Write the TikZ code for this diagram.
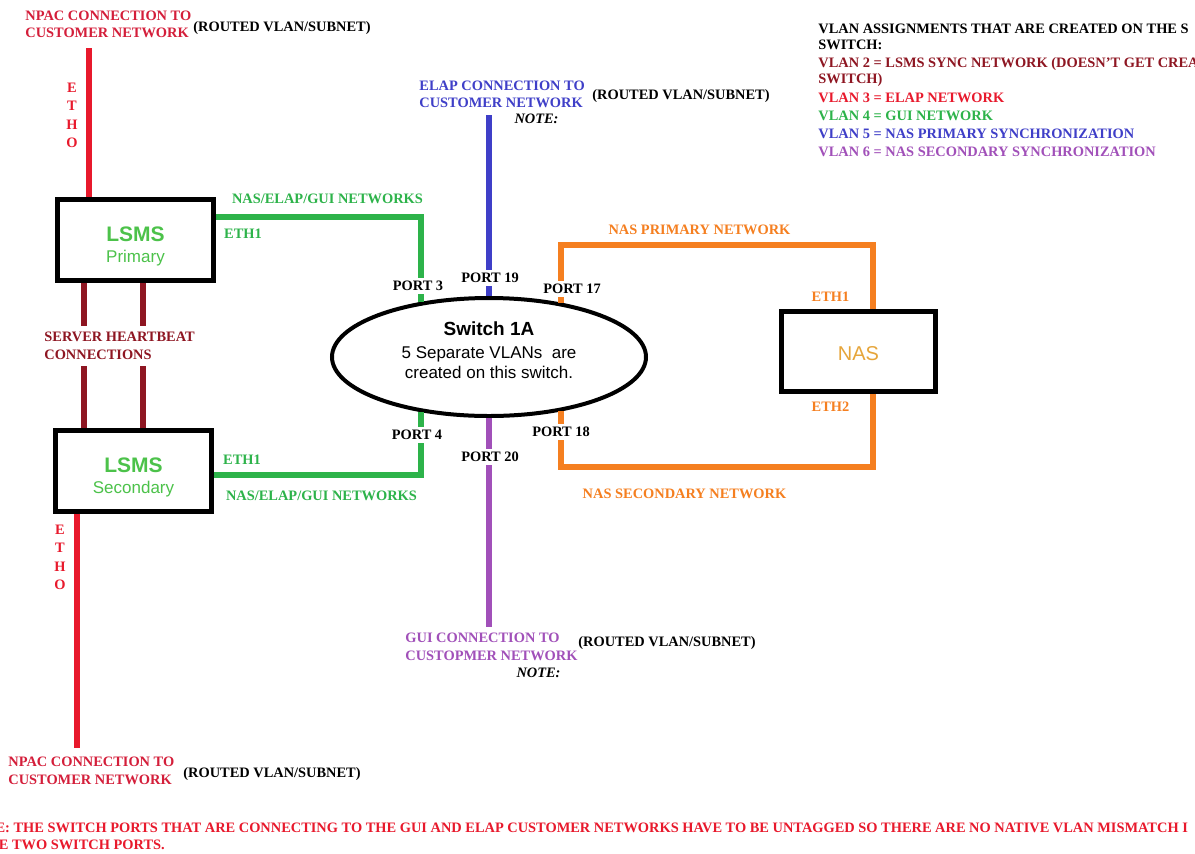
\documentclass[tikz,border=0pt]{standalone}
\usepackage{fontspec}
\setmainfont{Liberation Serif}
\newfontfamily\sansfont{Liberation Sans}
\usetikzlibrary{shapes.geometric, positioning}
\definecolor{NetRed}{HTML}{E8192C}
\definecolor{NpacRed}{HTML}{D41E3A}
\definecolor{BeatRed}{HTML}{8E1622}
\definecolor{NetGreen}{HTML}{2DB34A}
\definecolor{LsmsGreen}{HTML}{4CC24A}
\definecolor{NetBlue}{HTML}{3F3FC8}
\definecolor{NetOrange}{HTML}{F57F20}
\definecolor{NasGold}{HTML}{E6A53A}
\definecolor{NetPurple}{HTML}{A150B9}

\begin{document}
\begin{tikzpicture}[x=0.5pt, y=-0.5pt,
    lbl/.style={font=\bfseries\fontsize{7.2}{8.8}\selectfont, inner sep=0pt, align=left},
    port/.style={lbl, fill=white, inner sep=1.5pt},
    server/.style={draw, line width=2.5pt, minimum width=78pt, minimum height=40.5pt, inner sep=0pt, align=center},
    wire/.style={line width=2.8pt}]
    \useasboundingbox (0,0) rectangle (1195,853);
    \fill[white] (0,0) rectangle (1195,853);
    \clip (0,0) rectangle (1195,853);

    % Nodes
    \node[server, text=LsmsGreen] (lsms1) at (135.5,240) {\sansfont\bfseries\fontsize{10.5}{12}\selectfont\rule{0pt}{13.5pt}LSMS\\[-1.5pt]\sansfont\mdseries\fontsize{8.5}{10}\selectfont Primary};
    \node[server, text=LsmsGreen] (lsms2) at (133.5,470.5) {\sansfont\bfseries\fontsize{10.5}{12}\selectfont\rule{0pt}{14pt}LSMS\\[-1.5pt]\sansfont\mdseries\fontsize{8.5}{10}\selectfont Secondary};
    \node[server, minimum width=77pt, minimum height=40pt, text=NasGold, font=\sansfont\fontsize{10}{12}\selectfont] (nas) at (858.5,351.5) {\rule{0pt}{9.5pt}NAS};
    \node[ellipse, draw, line width=2pt, minimum width=157pt, minimum height=59pt, inner sep=0pt] (sw) at (489,357) {};
    \node[align=center, inner sep=0pt, font=\sansfont\fontsize{8.5}{9.6}\selectfont] (swtext) at ([yshift=3.5pt]sw.center) {{\bfseries\fontsize{9.5}{11}\selectfont Switch 1A}\\[2pt]5 Separate VLANs~ are\\created on this switch.};

    % Free ends
    \coordinate (npac1end) at (89,48);
    \coordinate (npac2end) at (77,748);
    \coordinate (elapend) at (489,115);
    \coordinate (guiend) at (489,627);
    \coordinate (pricorner) at (873,245);
    \coordinate (seccorner) at (873,467);
    \coordinate (hbA) at (84,0);
    \coordinate (hbB) at (143,0);

    % Edges
    \draw[wire, NetRed] (npac1end) -- (lsms1.north -| npac1end);
    \draw[wire, NetRed] (lsms2.south -| npac2end) -- (npac2end);
    \draw[wire, BeatRed] (lsms1.south -| hbA) -- (lsms2.north -| hbA);
    \draw[wire, BeatRed] (lsms1.south -| hbB) -- (lsms2.north -| hbB);
    \draw[wire, NetGreen] ([yshift=11.5pt]lsms1.east) -| (sw.141);
    \draw[wire, NetGreen] ([yshift=-2.25pt]lsms2.east) -| (sw.219);
    \draw[wire, NetBlue] (elapend) -- (sw.90);
    \draw[wire, NetPurple] (sw.270) -- (guiend);
    \draw[wire, NetOrange] (sw.37) |- (pricorner) -- (nas.north -| pricorner);
    \draw[wire, NetOrange] (nas.south -| seccorner) -- (seccorner) -| (sw.323);

    % Labels
    \node[lbl, NpacRed, anchor=west] (npactop) at (25,24.5) {NPAC CONNECTION TO\\CUSTOMER NETWORK};
    \node[lbl, anchor=west] (routed1) at (193,28) {(ROUTED VLAN/SUBNET)};
    \node[lbl, NetRed, align=center, font=\bfseries\fontsize{7.2}{9.2}\selectfont] (eth0top) at (72,115.5) {E\\T\\H\\O};
    \node[lbl, NpacRed, anchor=west] (npacbot) at (8,771) {NPAC CONNECTION TO\\CUSTOMER NETWORK};
    \node[lbl, anchor=west] (routed4) at (183,774) {(ROUTED VLAN/SUBNET)};
    \node[lbl, NetRed, align=center, font=\bfseries\fontsize{7.2}{9.2}\selectfont] (eth0bot) at (60,557.5) {E\\T\\H\\O};
    \node[lbl, BeatRed, anchor=west, fill=white, inner sep=3pt] (beat) at (38,346) {SERVER HEARTBEAT\\CONNECTIONS};

    \node[lbl, NetBlue, anchor=west] (elaplbl) at (419,94.5) {ELAP CONNECTION TO\\CUSTOMER NETWORK};
    \node[lbl, anchor=west] (routed2) at (592,96) {(ROUTED VLAN/SUBNET)};
    \node[lbl, font=\bfseries\itshape\fontsize{7.2}{8.8}\selectfont] (note1) at (536.5,119) {NOTE:};
    \node[lbl, NetPurple, anchor=west] (guilbl) at (405,647) {GUI CONNECTION TO\\CUSTOPMER NETWORK};
    \node[lbl, anchor=west] (routed3) at (578,643) {(ROUTED VLAN/SUBNET)};
    \node[lbl, font=\bfseries\itshape\fontsize{7.2}{8.8}\selectfont] (note2) at (538.5,673) {NOTE:};

    \node[lbl, NetGreen] (gnet1) at (327.5,199) {NAS/ELAP/GUI NETWORKS};
    \node[lbl, NetGreen] (geth1) at (243,234) {ETH1};
    \node[lbl, NetGreen] (geth2) at (242,460) {ETH1};
    \node[lbl, NetGreen] (gnet2) at (321.5,496) {NAS/ELAP/GUI NETWORKS};
    \node[lbl, NetOrange] (onet1) at (699.5,230) {NAS PRIMARY NETWORK};
    \node[lbl, NetOrange] (oeth1) at (830.5,297) {ETH1};
    \node[lbl, NetOrange] (oeth2) at (830.5,407) {ETH2};
    \node[lbl, NetOrange] (onet2) at (684.5,494) {NAS SECONDARY NETWORK};

    \node[port] (p3) at (418,286) {PORT 3};
    \node[port] (p19) at (490,278) {PORT 19};
    \node[port] (p17) at (572,289) {PORT 17};
    \node[port] (p4) at (417,435) {PORT 4};
    \node[port] (p18) at (561,432) {PORT 18};
    \node[port] (p20) at (490,457) {PORT 20};

    % VLAN list
    \foreach \ly/\lc/\lt [count=\i] in {33/black/VLAN ASSIGNMENTS THAT ARE CREATED ON THE S,
        49/black/SWITCH:,
        67/BeatRed/VLAN 2 = LSMS SYNC NETWORK (DOESN'T GET CREA,
        83/BeatRed/SWITCH),
        102/NetRed/VLAN 3 = ELAP NETWORK,
        120/NetGreen/VLAN 4 = GUI NETWORK,
        138/NetBlue/VLAN 5 = NAS PRIMARY SYNCHRONIZATION,
        156/NetPurple/VLAN 6 = NAS SECONDARY SYNCHRONIZATION}
        \node[lbl, text=\lc, anchor=base west] (vlan\i) at (818,\ly) {\lt};

    % bottom note
    \node[lbl, NetRed, anchor=base west] (note3) at (-36,832.5) {NOTE: THE SWITCH PORTS THAT ARE CONNECTING TO THE GUI AND ELAP CUSTOMER NETWORKS HAVE TO BE UNTAGGED SO THERE ARE NO NATIVE VLAN MISMATCH I};
    \node[lbl, NetRed, anchor=base west] (note4) at (-40,849.5) {THESE TWO SWITCH PORTS.};
\end{tikzpicture}
\end{document}
